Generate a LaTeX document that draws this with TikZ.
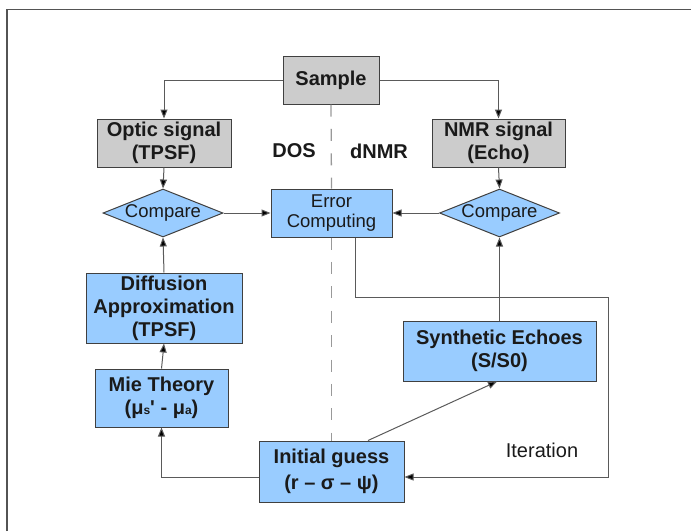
\documentclass[tikz,border=0pt]{standalone}
\usepackage{fontspec}
\setmainfont{Liberation Sans}
\usetikzlibrary{arrows.meta,shapes.geometric,calc}
\definecolor{boxblue}{HTML}{99CCFF}
\definecolor{boxgray}{HTML}{CCCCCC}
\definecolor{edge}{HTML}{404040}
\definecolor{wire}{HTML}{5A5A5A}
\definecolor{dashc}{HTML}{999999}
\definecolor{txt}{HTML}{1A1A1A}
\begin{document}
\begin{tikzpicture}[x=1pt,y=-1pt,
  bfont/.style={font=\fontsize{20}{23}\selectfont\bfseries},
  rfont/.style={font=\fontsize{18.5}{20.7}\selectfont},
  base/.style={draw=edge,line width=1pt,text=txt,inner sep=0pt,align=center},
  bluebox/.style={base,rectangle,fill=boxblue},
  graybox/.style={base,rectangle,fill=boxgray},
  cmp/.style={base,diamond,fill=boxblue,aspect=2.5,minimum width=120pt,minimum height=48pt,rfont},
  conn/.style={draw=wire,line width=1pt,-{Triangle[length=9pt,width=7pt,fill=black]}},
  plain/.style={draw=wire,line width=1pt},
  sep/.style={draw=dashc,line width=1.3pt,dash pattern=on 12pt off 12.4pt}
]
\useasboundingbox (0,0) rectangle (691,531);
\draw[draw=edge!90,line width=1.6pt] (7,531) -- (7,9.5) -- (691,9.5);

\node[graybox,bfont,minimum width=96pt,minimum height=48pt] (sample) at (331,80) {Sample};
\node[graybox,bfont,minimum width=134pt,minimum height=48pt] (optic) at (164,143) {Optic signal\\(TPSF)};
\node[graybox,bfont,minimum width=133pt,minimum height=48pt] (nmr) at (498.5,143) {NMR signal\\(Echo)};
\node[cmp] (cmpl) at (163,213) {Compare};
\node[bluebox,rfont,minimum width=121pt,minimum height=48pt] (err) at (331.5,213) {Error\\Computing};
\node[cmp] (cmpr) at (499.5,213) {Compare};
\node[bluebox,bfont,minimum width=156pt,minimum height=70pt] (diff) at (164,308) {Diffusion\\Approximation\\(TPSF)};
\node[bluebox,bfont,minimum width=133pt,minimum height=58pt] (mie) at (161.5,398) {Mie Theory\\(μ{\fontsize{12}{12}\selectfont s}\textquotesingle{} - μ{\fontsize{12}{12}\selectfont a})};
\node[bluebox,bfont,minimum width=193pt,minimum height=60pt] (synth) at (499.5,351) {Synthetic Echoes\\(S/S0)};
\node[bluebox,font=\fontsize{20}{26}\selectfont\bfseries,minimum width=145pt,minimum height=61pt] (init) at (331.5,471.5) {Initial guess\\(r – σ – ψ)};

\node[bfont,text=txt,inner sep=0pt] (dos) at (294,151) {DOS};
\node[bfont,text=txt,inner sep=0pt] (dnmr) at (379,151) {dNMR};
\node[font=\fontsize{20}{23}\selectfont,text=txt,inner sep=0pt] (iter) at (542,450) {Iteration};

% separator
\draw[sep] (sample.south) -- (err.north);
\draw[sep] (err.south) -- (init.north);

% connectors
\draw[conn] (sample.west) -| (optic.north);
\draw[conn] (sample.east) -| (nmr.north);
\draw[conn] (optic.south) -- (cmpl.north);
\draw[conn] (nmr.south) -- (cmpr.north);
\draw[conn] (cmpl.east) -- (err.west);
\draw[conn] (cmpr.west) -- (err.east);
\draw[conn] (diff.north) -- (cmpl.south);
\draw[conn] (mie.north) -- (diff.south);
\draw[conn] (synth.north) -- (cmpr.south);
\coordinate (initw) at ($(init.west)+(0,5.5)$);
\coordinate (inite) at ($(init.east)+(0,5.5)$);
\coordinate (errb) at ($(err.south)+(23.5,0)$);
\coordinate (initn) at ($(init.north)+(36.5,0)$);
\coordinate (synthb) at ($(synth.south)+(-2.5,0)$);
\draw[conn] (initw) -| (mie.south);
\draw[conn] (initn) -- (synthb);
\draw[conn] (errb) -- (errb |- 0,297) -- (608,297) -- (608,477) -- (inite);
\end{tikzpicture}
\end{document}
